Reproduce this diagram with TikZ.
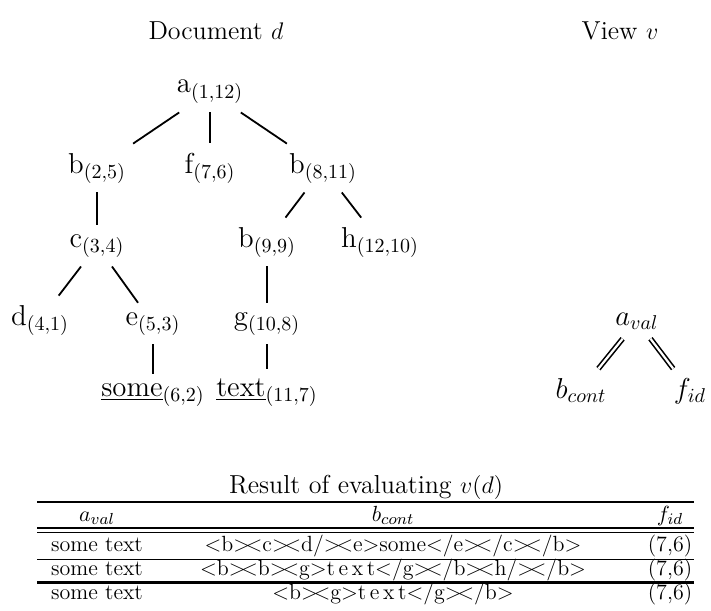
\documentclass[tikz,border=0pt]{standalone}
\newcommand{\tj}{>\kern-.2em<}
\begin{document}
\begin{tikzpicture}[x=0.5pt,y=-0.5pt,
    tree style/.style={anchor=base,inner sep=4.5pt,font=\Large},
    view style/.style={anchor=base,inner sep=4.5pt,font=\Large},
    title style/.style={anchor=base,inner sep=0pt,font=\fontsize{13}{16}\selectfont},
    cell style/.style={anchor=base,inner sep=0pt,font=\fontsize{11}{13.5}\selectfont},
    tree edge/.style={line width=0.9pt},
    view edge/.style={line width=0.8pt,double,double distance=1.1pt}
  ]
  \useasboundingbox (0,0) rectangle (711,610);

  % titles
  \node[title style] (doctitle) at (216,40) {Document $d$};
  \node[title style] (viewtitle) at (620,40) {View $v$};

  % document tree
  \node[tree style] (a) at (210,93) {a$_{(1,12)}$};
  \node[tree style] (b1) at (97,173) {b$_{(2,5)}$};
  \node[tree style] (f) at (210,173) {f$_{(7,6)}$};
  \node[tree style] (b2) at (323,173) {b$_{(8,11)}$};
  \node[tree style] (c) at (97,247) {c$_{(3,4)}$};
  \node[tree style] (b3) at (267,247) {b$_{(9,9)}$};
  \node[tree style] (h) at (380,247) {h$_{(12,10)}$};
  \node[tree style] (d) at (40,325) {d$_{(4,1)}$};
  \node[tree style] (e) at (153,325) {e$_{(5,3)}$};
  \node[tree style] (g) at (267,325) {g$_{(10,8)}$};
  \node[tree style] (some) at (153,396) {\underline{some}$_{(6,2)}$};
  \node[tree style] (text) at (267,396) {\underline{text}$_{(11,7)}$};

  \draw[tree edge] (a) -- (b1);
  \draw[tree edge] (a) -- (f);
  \draw[tree edge] (a) -- (b2);
  \draw[tree edge] (b1) -- (c);
  \draw[tree edge] (c) -- (d);
  \draw[tree edge] (c) -- (e);
  \draw[tree edge] (e) -- (some);
  \draw[tree edge] (b2) -- (b3);
  \draw[tree edge] (b2) -- (h);
  \draw[tree edge] (b3) -- (g);
  \draw[tree edge] (g) -- (text);

  % view tree
  \node[view style] (aval) at (637,325) {$a_{val}$};
  \node[view style] (bcont) at (581,398) {$b_{cont}$};
  \node[view style] (fid) at (690,398) {$f_{id}$};
  \draw[view edge] (aval) -- (bcont);
  \draw[view edge] (aval) -- (fid);

  % result table
  \node[title style] (restitle) at (366,493) {Result of evaluating $v(d)$};
  \draw[line width=1.3pt] (37,502) -- (694,502);
  \node[cell style] (h1) at (97,521) {$a_{val}$};
  \node[cell style] (h2) at (393,521) {$b_{cont}$};
  \node[cell style] (h3) at (670,521) {$f_{id}$};
  \draw[line width=0.8pt] (37,528) -- (694,528);
  \draw[line width=0.8pt] (37,532.5) -- (694,532.5);
  \node[cell style] (r1a) at (97,551) {some text};
  \node[cell style] (r1b) at (393,551) {<b\tj c\tj d/\tj e>some</e\tj /c\tj /b>};
  \node[cell style] (r1c) at (670,551) {(7,6)};
  \draw[line width=0.8pt] (37,559.5) -- (694,559.5);
  \node[cell style] (r2a) at (97,575) {some text};
  \node[cell style] (r2b) at (393,575) {<b\tj b\tj g>t\,e\,x\,t</g\tj /b\tj h/\tj /b>};
  \node[cell style] (r2c) at (670,575) {(7,6)};
  \draw[line width=1.3pt] (37,582.5) -- (694,582.5);
  \node[cell style] (r3a) at (97,599) {some text};
  \node[cell style] (r3b) at (393,599) {<b\tj g>t\,e\,x\,t</g\tj /b>};
  \node[cell style] (r3c) at (670,599) {(7,6)};
\end{tikzpicture}
\end{document}
